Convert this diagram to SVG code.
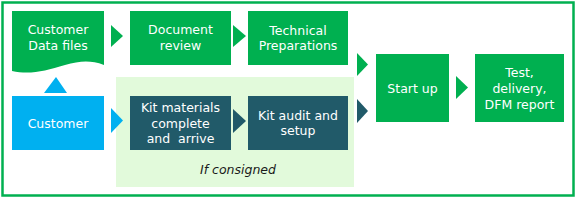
<svg xmlns="http://www.w3.org/2000/svg" width="578" height="201" viewBox="0 0 578 201">
<style>
.g{fill:#00B050}
.d{fill:#215A69}
.b{fill:#00B0F0}
.t{font-family:"DejaVu Sans",sans-serif;font-size:12.5px;fill:#FFFFFF;text-anchor:middle;white-space:pre}
.i{font-family:"DejaVu Sans",sans-serif;font-size:12.5px;fill:#1a1a1a;font-style:italic;text-anchor:middle}
</style>
<rect x="2.5" y="2.5" width="571" height="193" fill="#FFFFFF" stroke="#00B050" stroke-width="2.5"/>
<g id="consigned-area">
<rect x="116" y="77" width="238" height="110" fill="#E2FADB"/>
<text class="i" x="238" y="174">If consigned</text>
</g>
<g id="connectors">
<polygon class="g" points="111,25 123,36 111,47"/>
<polygon class="g" points="233,25 246,36 233,47"/>
<polygon class="g" points="357,53 368,64.5 357,76"/>
<polygon class="g" points="456,76 468,87.5 456,99"/>
<polygon class="b" points="44,93 56,77 67,93"/>
<polygon class="b" points="111,108 123,120.5 111,133"/>
<polygon class="d" points="233,109 246,121 233,133"/>
<polygon class="d" points="357,99 368,111 357,123"/>
</g>
<g id="customer-data">
<path class="g" d="M12,11 H104 V65 C90,60 80,61 65,65 C45,71 30,75 12,71 Z"/>
<text class="t" x="58" y="33.5">Customer</text>
<text class="t" x="58" y="49.5">Data files</text>
</g>
<g id="document-review">
<rect class="g" x="130" y="11" width="101" height="54"/>
<text class="t" x="180.5" y="33.5">Document</text>
<text class="t" x="180.5" y="49.5">review</text>
</g>
<g id="technical-preparations">
<rect class="g" x="248" y="11" width="100" height="54"/>
<text class="t" x="298" y="34.5">Technical</text>
<text class="t" x="298" y="50">Preparations</text>
</g>
<g id="customer">
<rect class="b" x="12" y="96" width="92" height="54"/>
<text class="t" x="58" y="127.5">Customer</text>
</g>
<g id="kit-materials">
<rect class="d" x="130" y="96" width="101" height="54"/>
<text class="t" x="180.5" y="112">Kit materials</text>
<text class="t" x="180.5" y="127.5">complete</text>
<text class="t" x="180.5" y="143" xml:space="preserve">and  arrive</text>
</g>
<g id="kit-audit">
<rect class="d" x="248" y="96" width="100" height="54"/>
<text class="t" x="298" y="119.5">Kit audit and</text>
<text class="t" x="298" y="135">setup</text>
</g>
<g id="start-up">
<rect class="g" x="376" y="54" width="73" height="68"/>
<text class="t" x="412.5" y="93">Start up</text>
</g>
<g id="test-delivery">
<rect class="g" x="475" y="54" width="89" height="68"/>
<text class="t" x="519.5" y="77">Test,</text>
<text class="t" x="519.5" y="93">delivery,</text>
<text class="t" x="519.5" y="108.5">DFM report</text>
</g>
</svg>
